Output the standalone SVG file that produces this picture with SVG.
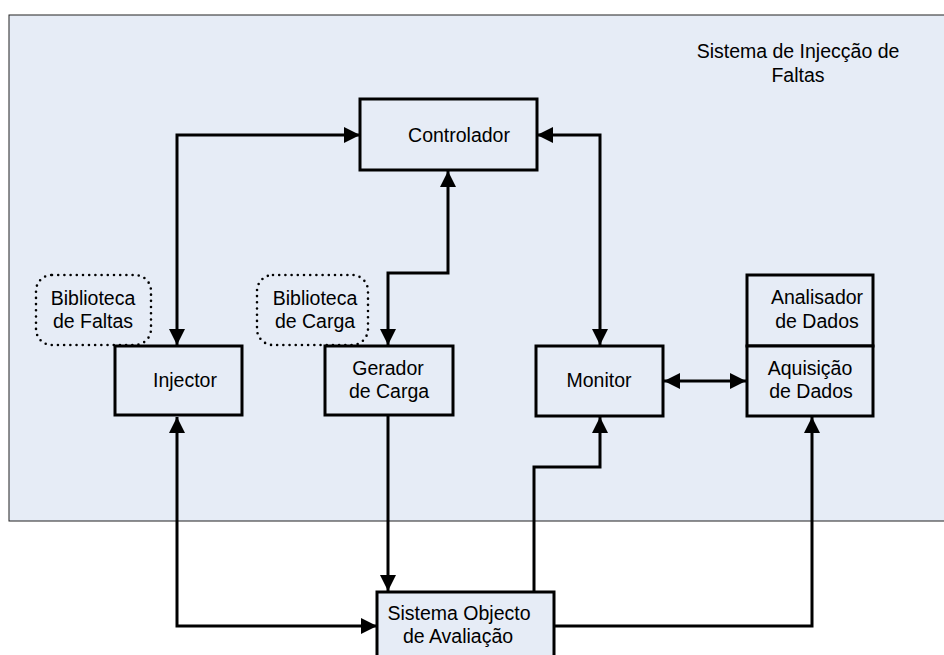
<svg xmlns="http://www.w3.org/2000/svg" width="944" height="655" viewBox="0 0 944 655">
  <style>
    .box { fill: #E6ECF6; stroke: #000; stroke-width: 3; }
    .lib { fill: none; stroke: #000; stroke-width: 2.6; stroke-dasharray: 0 6.2; stroke-linecap: round; }
    .wire { fill: none; stroke: #000; stroke-width: 3; stroke-linejoin: miter; }
    .both { marker-start: url(#arrow); marker-end: url(#arrow); }
    .one { marker-end: url(#arrow); }
    text { font-family: "Liberation Sans", Arial, sans-serif; font-size: 19.5px; fill: #000; text-anchor: middle; }
  </style>
  <defs>
    <marker id="arrow" markerUnits="userSpaceOnUse" markerWidth="17" markerHeight="17" refX="16" refY="8" orient="auto-start-reverse">
      <path d="M0,0 L16,8 L0,16 Z" fill="#000"/>
    </marker>
  </defs>

  <!-- system boundary -->
  <g id="fault-injection-system">
    <rect x="9" y="15" width="945" height="506" fill="#E6ECF6" stroke="#222" stroke-width="1"/>
    <text x="798" y="58">Sistema de Injecção de</text>
    <text x="798" y="82">Faltas</text>
  </g>

  <!-- connectors -->
  <g id="connectors">
    <path class="wire both" d="M360 135 H177 V345"/>
    <path class="wire both" d="M448 171 V273 H388 V345"/>
    <path class="wire both" d="M537 135 H600 V345"/>
    <path class="wire both" d="M664 381 H746"/>
    <path class="wire both" d="M177 417 V626 H377"/>
    <path class="wire one" d="M388 416 V591"/>
    <path class="wire one" d="M534 591 V467 H600 V417"/>
    <path class="wire one" d="M555 626 H812 V417"/>
  </g>

  <g id="controlador">
    <rect class="box" x="360" y="99" width="177" height="71"/>
    <text x="459" y="142">Controlador</text>
  </g>

  <g id="biblioteca-faltas">
    <rect class="lib" x="36" y="275" width="115" height="70" rx="16" ry="16"/>
    <text x="93" y="305">Biblioteca</text>
    <text x="93" y="328">de Faltas</text>
  </g>

  <g id="biblioteca-carga">
    <rect class="lib" x="257" y="275" width="111" height="70" rx="16" ry="16"/>
    <text x="315" y="305">Biblioteca</text>
    <text x="315" y="328">de Carga</text>
  </g>

  <g id="injector">
    <rect class="box" x="115" y="346" width="127" height="69"/>
    <text x="185" y="387">Injector</text>
  </g>

  <g id="gerador-carga">
    <rect class="box" x="325" y="346" width="128" height="69"/>
    <text x="388" y="375">Gerador</text>
    <text x="389" y="398">de Carga</text>
  </g>

  <g id="monitor">
    <rect class="box" x="536" y="346" width="127" height="70"/>
    <text x="599" y="387">Monitor</text>
  </g>

  <g id="analisador-dados">
    <rect class="box" x="747" y="275" width="126" height="71"/>
    <text x="817" y="304">Analisador</text>
    <text x="817" y="328">de Dados</text>
  </g>

  <g id="aquisicao-dados">
    <rect class="box" x="747" y="346" width="126" height="70"/>
    <text x="810" y="375">Aquisição</text>
    <text x="811" y="398">de Dados</text>
  </g>

  <g id="sistema-objecto">
    <rect class="box" x="377" y="592" width="177" height="80"/>
    <text x="459" y="620">Sistema Objecto</text>
    <text x="458" y="643">de Avaliação</text>
  </g>
</svg>
